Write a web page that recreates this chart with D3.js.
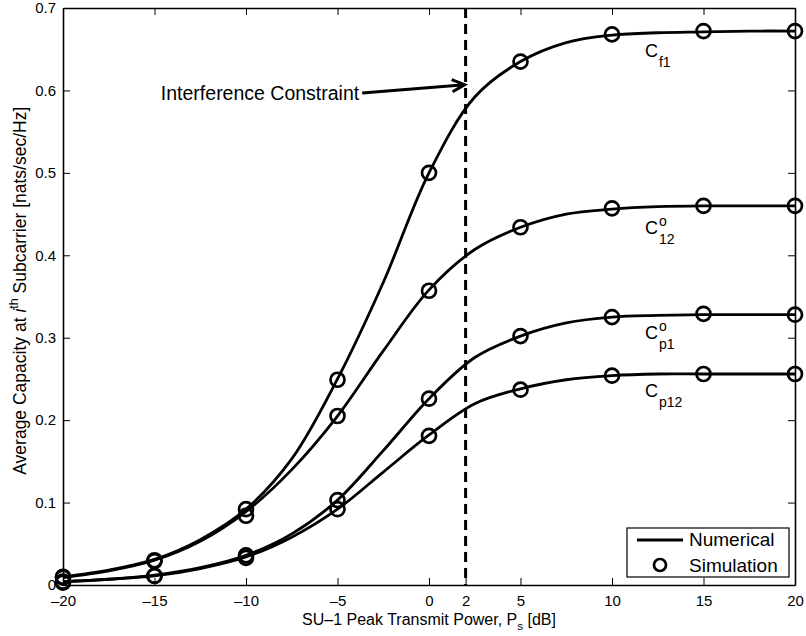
<!DOCTYPE html>
<html>
<head>
<meta charset="utf-8">
<script src="https://cdn.jsdelivr.net/npm/d3@7"></script>
<style>
  html, body { margin: 0; padding: 0; background: #fff; }
  svg { display: block; font-family: "Liberation Sans", Arial, Helvetica, sans-serif; }
</style>
</head>
<body>
<svg id="chart" width="806" height="636"></svg>
<script>
// Peak transmit power grid (dB) for the analytical curves
const numX = [-20, -17.5, -15, -12.5, -10, -7.5, -5, -2.5, 0, 2.5, 5, 7.5, 10, 12.5, 15, 17.5, 20];
// Analytical (numerical) capacity curves
const numCf1  = [0.010, 0.018, 0.031, 0.055, 0.092, 0.153, 0.250, 0.367, 0.500, 0.592, 0.635, 0.658, 0.667, 0.670, 0.671, 0.672, 0.672];
const numC12  = [0.009, 0.017, 0.030, 0.053, 0.089, 0.140, 0.205, 0.284, 0.358, 0.407, 0.434, 0.450, 0.456, 0.459, 0.460, 0.460, 0.460];
const numCp1  = [0.004, 0.007, 0.012, 0.021, 0.036, 0.062, 0.103, 0.163, 0.226, 0.276, 0.302, 0.318, 0.325, 0.327, 0.328, 0.328, 0.328];
const numCp12 = [0.004, 0.007, 0.011, 0.020, 0.034, 0.058, 0.092, 0.137, 0.182, 0.220, 0.238, 0.249, 0.254, 0.256, 0.256, 0.256, 0.256];

// Monte-Carlo simulation points
const simX    = [-20, -15, -10, -5, 0, 5, 10, 15, 20];
const simCf1  = [0.010, 0.030, 0.092, 0.249, 0.500, 0.635, 0.668, 0.672, 0.672];
const simC12  = [0.009, 0.029, 0.084, 0.205, 0.357, 0.434, 0.457, 0.460, 0.460];
const simCp1  = [0.004, 0.011, 0.036, 0.103, 0.226, 0.302, 0.325, 0.329, 0.328];
const simCp12 = [0.003, 0.011, 0.033, 0.092, 0.181, 0.237, 0.254, 0.256, 0.256];

// Axis ticks
const xTicks = [-20, -15, -10, -5, 0, 2, 5, 10, 15, 20];
const yTicks = [0, 0.1, 0.2, 0.3, 0.4, 0.5, 0.6, 0.7];

// Interference constraint position (dB)
const constraintX = 2;

const svg = d3.select("#chart");
const W = 806, H = 636;
const m = { left: 63, right: 11, top: 8, bottom: 51 };
const x = d3.scaleLinear().domain([-20, 20]).range([m.left, W - m.right]);
const y = d3.scaleLinear().domain([0, 0.7]).range([H - m.bottom, m.top]);

const fmtX = d => (d < 0 ? "\u2013" + Math.abs(d) : String(d));
const fmtY = d => (d === 0 ? "0" : d3.format(".1f")(d));

// Axes with inward ticks on all four sides
const tickLen = 7;
const gAx = svg.append("g").attr("class", "axes");
gAx.append("g").attr("transform", `translate(0,${y(0)})`)
  .call(d3.axisBottom(x).tickValues(xTicks).tickFormat(fmtX).tickSizeInner(-tickLen).tickSizeOuter(0).tickPadding(10));
gAx.append("g").attr("transform", `translate(0,${y(0.7)})`)
  .call(d3.axisTop(x).tickValues(xTicks).tickFormat("").tickSizeInner(-tickLen).tickSizeOuter(0));
gAx.append("g").attr("transform", `translate(${x(-20)},0)`)
  .call(d3.axisLeft(y).tickValues(yTicks).tickFormat(fmtY).tickSizeInner(-tickLen).tickSizeOuter(0).tickPadding(7));
gAx.append("g").attr("transform", `translate(${x(20)},0)`)
  .call(d3.axisRight(y).tickValues(yTicks).tickFormat("").tickSizeInner(-tickLen).tickSizeOuter(0));
gAx.selectAll(".domain").attr("stroke", "#000").attr("stroke-width", 1.6);
gAx.selectAll(".tick line").attr("stroke", "#000").attr("stroke-width", 1);
gAx.selectAll(".tick text").attr("fill", "#000").style("font-size", "15px");

// Constraint marker
svg.append("line")
  .attr("x1", x(constraintX)).attr("x2", x(constraintX))
  .attr("y1", y(0.7)).attr("y2", y(0))
  .attr("stroke", "#000").attr("stroke-width", 3)
  .attr("stroke-dasharray", "10,6");

// Curves
const series = [
  { num: numCf1, sim: simCf1 },
  { num: numC12, sim: simC12 },
  { num: numCp1, sim: simCp1 },
  { num: numCp12, sim: simCp12 }
];
const line = d3.line().x(d => x(d[0])).y(d => y(d[1])).curve(d3.curveCatmullRom.alpha(0.5));
const gPlot = svg.append("g");
series.forEach(s => {
  gPlot.append("path")
    .datum(numX.map((v, i) => [v, s.num[i]]))
    .attr("d", line)
    .attr("fill", "none").attr("stroke", "#000").attr("stroke-width", 2.8)
    .attr("stroke-linejoin", "round");
});
series.forEach(s => {
  gPlot.selectAll(null)
    .data(simX.map((v, i) => [v, s.sim[i]]))
    .join("circle")
    .attr("cx", d => x(d[0])).attr("cy", d => y(d[1]))
    .attr("r", 7).attr("fill", "none").attr("stroke", "#000").attr("stroke-width", 2.7);
});

// Curve labels: C with subscript and optional superscript
function capLabel(xv, yv, sub, sup) {
  const bx = x(xv), by = y(yv);
  svg.append("text").attr("x", bx).attr("y", by)
    .style("font-size", "18px").attr("fill", "#000").text("C");
  if (sup) {
    svg.append("text").attr("x", bx + 14).attr("y", by - 8)
      .style("font-size", "14px").attr("fill", "#000").text(sup);
  }
  svg.append("text").attr("x", bx + 14).attr("y", by + 10)
    .style("font-size", "14px").attr("fill", "#000").text(sub);
}
capLabel(11.8, 0.641, "f1");
capLabel(11.8, 0.426, "12", "o");
capLabel(11.8, 0.298, "p1", "o");
capLabel(11.8, 0.228, "p12");

// Interference constraint annotation
const arrowStart = [-3.65, 0.597];
const arrowEnd = [1.95, 0.607];
svg.append("text")
  .attr("x", x(arrowStart[0]) - 3).attr("y", y(arrowStart[1]) + 7)
  .attr("text-anchor", "end").style("font-size", "19.5px").attr("fill", "#000")
  .text("Interference Constraint");
const ax0 = x(arrowStart[0]), ay0 = y(arrowStart[1]);
const ax1 = x(arrowEnd[0]), ay1 = y(arrowEnd[1]);
svg.append("line").attr("x1", ax0).attr("y1", ay0).attr("x2", ax1).attr("y2", ay1)
  .attr("stroke", "#000").attr("stroke-width", 3);
const ang = Math.atan2(ay1 - ay0, ax1 - ax0);
const hl = 14, ha = 0.45;
svg.append("path")
  .attr("d", `M${ax1 - hl * Math.cos(ang - ha)},${ay1 - hl * Math.sin(ang - ha)} L${ax1},${ay1} L${ax1 - hl * Math.cos(ang + ha)},${ay1 - hl * Math.sin(ang + ha)}`)
  .attr("fill", "none").attr("stroke", "#000").attr("stroke-width", 3).attr("stroke-linejoin", "miter");

// Axis titles
const xt = svg.append("text").attr("x", x(0)).attr("y", 625)
  .attr("text-anchor", "middle").style("font-size", "16px").attr("fill", "#000");
xt.append("tspan").text("SU\u20131 Peak Transmit Power, P");
xt.append("tspan").attr("dy", 5).style("font-size", "11.5px").text("s");
xt.append("tspan").attr("dy", -5).text(" [dB]");

const yt = svg.append("text")
  .attr("transform", `translate(26,${y(0.357)}) rotate(-90)`)
  .attr("text-anchor", "middle").style("font-size", "17.5px").attr("fill", "#000");
yt.append("tspan").text("Average Capacity at ");
yt.append("tspan").style("font-style", "italic").text("i");
yt.append("tspan").attr("dy", -8).style("font-size", "12.5px").text("th");
yt.append("tspan").attr("dy", 8).text(" Subcarrier [nats/sec/Hz]");

// Legend
const lg = svg.append("g");
const lx = 627, ly = 528, lw = 162, lh = 49;
lg.append("rect").attr("x", lx).attr("y", ly).attr("width", lw).attr("height", lh)
  .attr("fill", "#fff").attr("stroke", "#000").attr("stroke-width", 1.2);
lg.append("line").attr("x1", lx + 10).attr("x2", lx + 56).attr("y1", ly + 12).attr("y2", ly + 12)
  .attr("stroke", "#000").attr("stroke-width", 2.8);
lg.append("circle").attr("cx", lx + 33).attr("cy", ly + 37).attr("r", 6)
  .attr("fill", "none").attr("stroke", "#000").attr("stroke-width", 2.7);
lg.append("text").attr("x", lx + 62).attr("y", ly + 18).style("font-size", "19px").text("Numerical");
lg.append("text").attr("x", lx + 62).attr("y", ly + 44).style("font-size", "19px").text("Simulation");
</script>
</body>
</html>
